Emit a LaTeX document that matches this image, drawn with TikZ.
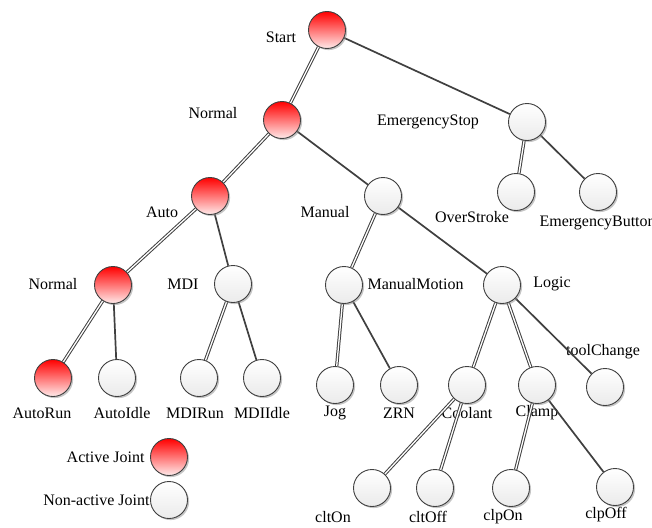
\documentclass[tikz,border=0pt]{standalone}
\usepackage{fontspec}
\setmainfont{Liberation Serif}
\usetikzlibrary{backgrounds,shadows}

\tikzset{
    joint/.style={circle, draw=black!75, line width=0.9pt, minimum size=37pt, inner sep=0pt,
        drop shadow={shadow xshift=1.6pt, shadow yshift=-1.6pt, fill=black!45}},
    active/.style={joint, top color=red, bottom color=red!8},
    idle/.style={joint, top color=white, bottom color=black!8},
    single/.style={draw=black!75, line width=1.7pt},
    twin/.style={draw=black!75, line width=1pt, double=white, double distance=1.3pt},
}

\begin{document}
\begin{tikzpicture}[x=1pt, y=-1pt, every node/.style={font=\fontsize{16}{18}\selectfont}]
    \useasboundingbox (0,0) rectangle (652,527);
    % joints
    \node (start) [active] at (327,30) {};
    \node (normal) [active] at (282,120) {};
    \node (estop) [idle] at (527,122) {};
    \node (overstroke) [idle] at (516,192) {};
    \node (ebutton) [idle] at (598,192) {};
    \node (auto) [active] at (210,196) {};
    \node (manual) [idle] at (383,196) {};
    \node (autonormal) [active] at (113,285) {};
    \node (mdi) [idle] at (233,284) {};
    \node (motion) [idle] at (344,285) {};
    \node (logic) [idle] at (502,285) {};
    \node (autorun) [active] at (53,378) {};
    \node (autoidle) [idle] at (117,378) {};
    \node (mdirun) [idle] at (199,378) {};
    \node (mdiidle) [idle] at (262,378) {};
    \node (jog) [idle] at (335,385) {};
    \node (zrn) [idle] at (399,385) {};
    \node (coolant) [idle] at (467,385) {};
    \node (clamp) [idle] at (537,385) {};
    \node (toolchange) [idle] at (605,387) {};
    \node (clton) [idle] at (372,488) {};
    \node (cltoff) [idle] at (435,488) {};
    \node (clpon) [idle] at (511,488) {};
    \node (clpoff) [idle] at (615,487) {};
    % legend
    \node (keyactive) [active] at (169,457) {};
    \node (keyidle) [idle] at (169,500) {};
    \begin{scope}[on background layer]
        % white background
        \fill [white] (0,0) rectangle (652,527);
        % labels
        \node (tstart) at (281,37) {Start};
        \node (tnormal) at (213,113) {Normal};
        \node (testop) at (428,122) {EmergencyStop};
        \node (toverstroke) at (472,217) {OverStroke};
        \node (tebutton) [anchor=west] at (536,223) {EmergencyButton};
        \node (tauto) at (162,212) {Auto};
        \node (tmanual) at (325,212) {Manual};
        \node (tautonormal) at (53,284) {Normal};
        \node (tmdi) at (183,284) {MDI};
        \node (tmotion) [anchor=west] at (364,284) {ManualMotion};
        \node (tlogic) at (552,284) {Logic};
        \node (tautorun) at (42,413) {AutoRun};
        \node (tautoidle) at (122,413) {AutoIdle};
        \node (tmdirun) at (195,413) {MDIRun};
        \node (tmdiidle) at (262,413) {MDIIdle};
        \node (tjog) at (335,413) {Jog};
        \node (tzrn) at (399,413) {ZRN};
        \node (tcoolant) at (467,413) {Coolant};
        \node (tclamp) at (537,413) {Clamp};
        \node (ttoolchange) at (603,352) {toolChange};
        \node (tclton) at (333,517) {cltOn};
        \node (tcltoff) at (428,517) {cltOff};
        \node (tclpon) at (503,517) {clpOn};
        \node (tclpoff) at (606,515) {clpOff};
        \node (tkeyactive) [anchor=east] at (148,457) {Active Joint};
        \node (tkeyidle) [anchor=east] at (153,500) {Non-active Joint};
        % connectors
        \draw [twin] (start) -- (normal);
        \draw [single] (start) -- (estop);
        \draw [twin] (normal) -- (auto);
        \draw [single] (normal) -- (manual);
        \draw [twin] (estop) -- (overstroke);
        \draw [single] (estop) -- (ebutton);
        \draw [twin] (auto) -- (autonormal);
        \draw [single] (auto) -- (mdi);
        \draw [twin] (manual) -- (motion);
        \draw [single] (manual) -- (logic);
        \draw [twin] (autonormal) -- (autorun);
        \draw [single] (autonormal) -- (autoidle);
        \draw [twin] (mdi) -- (mdirun);
        \draw [single] (mdi) -- (mdiidle);
        \draw [twin] (motion) -- (jog);
        \draw [single] (motion) -- (zrn);
        \draw [twin] (logic) -- (coolant);
        \draw [twin] (logic) -- (clamp);
        \draw [single] (logic) -- (toolchange);
        \draw [twin] (coolant) -- (clton);
        \draw [twin] (coolant) -- (cltoff);
        \draw [twin] (clamp) -- (clpon);
        \draw [single] (clamp) -- (clpoff);
    \end{scope}
\end{tikzpicture}
\end{document}
